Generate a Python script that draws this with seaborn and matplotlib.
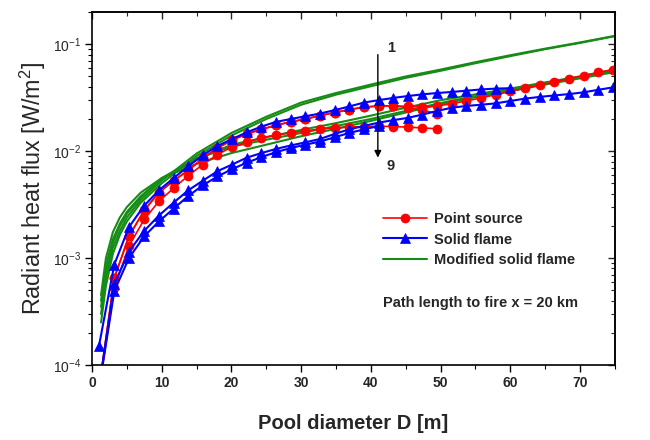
import numpy as np
import pandas as pd
import matplotlib
matplotlib.use("Agg")
import matplotlib.pyplot as plt
import seaborn as sns
from matplotlib.lines import Line2D
from matplotlib.ticker import LogLocator, MultipleLocator, NullFormatter, FixedLocator

sns.set_style("ticks")
plt.rcParams["font.family"] = ["Liberation Sans", "DejaVu Sans"]
plt.rcParams["mathtext.fontset"] = "custom"
plt.rcParams["mathtext.rm"] = "Liberation Sans"
plt.rcParams["mathtext.bf"] = "Liberation Sans:bold"

# ---------------- data ----------------
# pool diameters of the marker curves [m]
D_marker = [1.0, 3.2, 5.3, 7.5, 9.6, 11.7, 13.8, 15.9, 18.0, 20.1, 22.2, 24.3, 26.4,
            28.5, 30.6, 32.7, 34.8, 36.9, 39.0, 41.1, 43.2, 45.3, 47.4, 49.5, 51.6,
            53.7, 55.8, 57.9, 60.0, 62.1, 64.2, 66.3, 68.4, 70.5, 72.6, 74.7]

# Point source model (red)
point_1 = [6e-5, 6.5e-4, 1.6e-3, 2.8e-3, 4.1e-3, 5.3e-3, 6.6e-3, 8.6e-3, 1.07e-2, 1.27e-2,
           1.45e-2, 1.6e-2, 1.75e-2, 1.88e-2, 2.0e-2, 2.15e-2, 2.3e-2, 2.45e-2, 2.58e-2,
           2.65e-2, 2.66e-2, 2.62e-2, 2.6e-2, 2.65e-2, 2.78e-2, 2.95e-2, 3.15e-2, 3.38e-2,
           3.62e-2, 3.88e-2, 4.15e-2, 4.45e-2, 4.78e-2, 5.1e-2, 5.45e-2, 5.8e-2]
point_2 = [6e-5, 6.5e-4, 1.6e-3, 2.8e-3, 4.1e-3, 5.3e-3, 6.6e-3, 8.6e-3, 1.07e-2, 1.27e-2,
           1.45e-2, 1.6e-2, 1.75e-2, 1.88e-2, 2.0e-2, 2.15e-2, 2.3e-2, 2.45e-2, 2.58e-2,
           2.65e-2, 2.66e-2, 2.55e-2, 2.42e-2, 2.25e-2]
point_3 = [6e-5, 5.2e-4, 1.3e-3, 2.3e-3, 3.4e-3, 4.5e-3, 5.9e-3, 7.5e-3, 9.3e-3, 1.1e-2,
           1.21e-2, 1.33e-2, 1.42e-2, 1.48e-2, 1.55e-2, 1.61e-2, 1.65e-2, 1.68e-2, 1.7e-2,
           1.71e-2, 1.7e-2, 1.68e-2, 1.65e-2, 1.62e-2]

# Solid flame model (blue)
solid_1 = [1.5e-4, 8.7e-4, 1.95e-3, 3.1e-3, 4.3e-3, 5.6e-3, 7.2e-3, 9.2e-3, 1.12e-2, 1.3e-2,
           1.5e-2, 1.7e-2, 1.88e-2, 2.0e-2, 2.12e-2, 2.25e-2, 2.42e-2, 2.62e-2, 2.85e-2,
           3.0e-2, 3.15e-2, 3.28e-2, 3.4e-2, 3.5e-2, 3.58e-2, 3.68e-2, 3.78e-2, 3.85e-2, 3.88e-2]
solid_2 = [6e-5, 5.7e-4, 1.15e-3, 1.8e-3, 2.5e-3, 3.3e-3, 4.3e-3, 5.3e-3, 6.5e-3, 7.5e-3,
           8.7e-3, 9.6e-3, 1.05e-2, 1.13e-2, 1.21e-2, 1.3e-2, 1.45e-2, 1.6e-2, 1.72e-2,
           1.85e-2, 1.95e-2, 2.05e-2, 2.2e-2, 2.38e-2, 2.55e-2, 2.65e-2, 2.72e-2, 2.8e-2,
           2.95e-2, 3.1e-2, 3.22e-2, 3.32e-2, 3.42e-2, 3.55e-2, 3.75e-2, 3.95e-2]
solid_3 = [6e-5, 4.9e-4, 1.0e-3, 1.6e-3, 2.2e-3, 2.9e-3, 3.8e-3, 4.8e-3, 5.8e-3, 6.8e-3,
           7.8e-3, 8.8e-3, 9.8e-3, 1.07e-2, 1.15e-2, 1.23e-2, 1.35e-2, 1.48e-2, 1.6e-2, 1.72e-2]

# Modified solid flame model (green)
D_line = [1.3, 2, 3, 4, 5, 7, 10, 15, 20, 25, 30, 35, 40, 45, 50, 55, 60, 65, 70, 75]
modified_1 = [3.0e-4, 6.5e-4, 1.25e-3, 1.8e-3, 2.4e-3, 3.5e-3, 5.3e-3, 9.5e-3, 1.48e-2, 2.1e-2,
              2.85e-2, 3.5e-2, 4.2e-2, 5.0e-2, 5.8e-2, 6.8e-2, 7.9e-2, 9.1e-2, 1.04e-1, 1.2e-1]
modified_2 = [2.5e-4, 5.5e-4, 1.1e-3, 1.65e-3, 2.2e-3, 3.3e-3, 5.0e-3, 9.0e-3, 1.4e-2, 2.0e-2,
              2.72e-2, 3.38e-2, 4.05e-2, 4.85e-2, 5.65e-2, 6.65e-2, 7.75e-2, 9.0e-2, 1.03e-1, 1.19e-1]
modified_3 = [4.0e-4, 8.5e-4, 1.5e-3, 2.1e-3, 2.7e-3, 3.8e-3, 5.5e-3, 8.3e-3, 1.15e-2, 1.35e-2,
              1.58e-2, 1.83e-2, 2.15e-2, 2.55e-2, 3.0e-2, 3.4e-2, 3.85e-2, 4.4e-2, 5.0e-2, 5.8e-2]
modified_4 = [3.5e-4, 7.5e-4, 1.4e-3, 2.0e-3, 2.6e-3, 3.7e-3, 5.6e-3, 8.6e-3, 1.1e-2, 1.28e-2,
              1.48e-2, 1.72e-2, 2.0e-2, 2.38e-2, 2.82e-2, 3.28e-2, 3.75e-2, 4.3e-2, 4.9e-2, 5.65e-2]
modified_5 = [4.5e-4, 1.0e-3, 1.75e-3, 2.4e-3, 3.0e-3, 4.1e-3, 5.6e-3, 7.6e-3, 9.6e-3, 1.15e-2,
              1.38e-2, 1.62e-2, 1.92e-2, 2.3e-2, 2.75e-2, 3.2e-2, 3.65e-2, 4.2e-2, 4.8e-2, 5.5e-2]

legend_labels = ["Point source", "Solid flame", "Modified solid flame"]
y_ticks = [1e-4, 1e-3, 1e-2, 1e-1]
y_tick_labels = [r"$10^{-4}$", r"$10^{-3}$", r"$10^{-2}$", r"$10^{-1}$"]
x_ticks = [0, 10, 20, 30, 40, 50, 60, 70]

# ---------------- build long table ----------------
rows = []
for name, ys, model in [("p1", point_1, "point"), ("p2", point_2, "point"), ("p3", point_3, "point"),
                        ("s1", solid_1, "solid"), ("s2", solid_2, "solid"), ("s3", solid_3, "solid")]:
    for d, q in zip(D_marker[:len(ys)], ys):
        rows.append((model, name, d, q))
for name, ys in [("m1", modified_1), ("m2", modified_2), ("m3", modified_3),
                 ("m4", modified_4), ("m5", modified_5)]:
    for d, q in zip(D_line, ys):
        rows.append(("modified", name, d, q))
df = pd.DataFrame(rows, columns=["model", "curve", "D", "q"])

RED, BLUE, GREEN = "#ff0000", "#0000ff", "#168c16"
style = {
    "point": dict(color=RED, marker="o", markersize=6.5, markeredgecolor=RED, markeredgewidth=0.5, linewidth=1.2),
    "solid": dict(color=BLUE, marker="^", markersize=7, markeredgecolor=BLUE, markeredgewidth=0.5, linewidth=1.5),
    "modified": dict(color=GREEN, linewidth=1.5),
}

fig = plt.figure(figsize=(6.5, 4.4), dpi=100)
ax = fig.add_axes([0.1415, 0.1705, 0.8045, 0.802])

order = ["m1", "m2", "m3", "m4", "m5", "p1", "p2", "p3", "s1", "s2", "s3"]
for c in order:
    sub = df[df["curve"] == c]
    model = sub["model"].iloc[0]
    sns.lineplot(data=sub, x="D", y="q", ax=ax, legend=False, estimator=None, **style[model])

ax.set_yscale("log")
ax.set_xlim(0, 75)
ax.set_ylim(1e-4, 0.2)

ax.yaxis.set_major_locator(FixedLocator(y_ticks))
ax.set_yticklabels(y_tick_labels)
ax.yaxis.set_minor_locator(LogLocator(base=10, subs=np.arange(2, 10)))
ax.yaxis.set_minor_formatter(NullFormatter())
ax.xaxis.set_major_locator(FixedLocator(x_ticks))
ax.set_xticklabels([str(v) for v in x_ticks], fontweight="bold")
ax.xaxis.set_minor_locator(MultipleLocator(5))

ax.tick_params(axis="both", which="major", direction="out", length=5, width=1, color="black", labelsize=10, pad=3)
ax.tick_params(axis="both", which="minor", direction="out", length=3, width=0.8, color="black")
for s in ax.spines.values():
    s.set_color("black")
    s.set_linewidth(1.2)

secx = ax.secondary_xaxis("top")
secx.xaxis.set_major_locator(FixedLocator(x_ticks))
secx.xaxis.set_minor_locator(MultipleLocator(5))
secx.tick_params(axis="x", which="major", direction="in", length=5, width=1, labeltop=False)
secx.tick_params(axis="x", which="minor", direction="in", length=3, width=0.8)
secx.spines["top"].set_linewidth(1.2)

secy = ax.secondary_yaxis("right")
secy.set_yscale("log")
secy.yaxis.set_major_locator(FixedLocator(y_ticks))
secy.yaxis.set_minor_locator(LogLocator(base=10, subs=np.arange(2, 10)))
secy.yaxis.set_minor_formatter(NullFormatter())
secy.tick_params(axis="y", which="major", direction="in", length=5, width=1, labelright=False)
secy.tick_params(axis="y", which="minor", direction="in", length=3, width=0.8)
secy.spines["right"].set_linewidth(1.2)

ax.set_xlabel("Pool diameter D [m]", fontsize=14.5, fontweight="bold", labelpad=17)
ax.set_ylabel(r"Radiant heat flux [W/m$^{2}$]", fontsize=16.8, labelpad=3)

# arrow 1 -> 9
ax.annotate("", xy=(41, 0.0082), xytext=(41, 0.085),
            arrowprops=dict(arrowstyle="-|>", color="black", lw=1, mutation_scale=10))
ax.text(42.3, 0.092, "1", fontsize=10.5, fontweight="bold", va="center", ha="left")
ax.text(42.3, 0.0073, "9", fontsize=10.5, fontweight="bold", va="center", ha="left")

handles = [
    Line2D([], [], **style["point"]),
    Line2D([], [], **style["solid"]),
    Line2D([], [], **style["modified"]),
]
ax.legend(handles, legend_labels, loc="upper left", bbox_to_anchor=(0.545, 0.45),
          frameon=False, handlelength=3.0, handletextpad=0.5, labelspacing=0.45,
          prop=dict(weight="bold", size=10.5), borderaxespad=0)
ax.text(0.556, 0.176, "Path length to fire x = 20 km", transform=ax.transAxes,
        fontsize=10.5, fontweight="bold", va="center", ha="left")

fig.savefig("out.png", dpi=100)
